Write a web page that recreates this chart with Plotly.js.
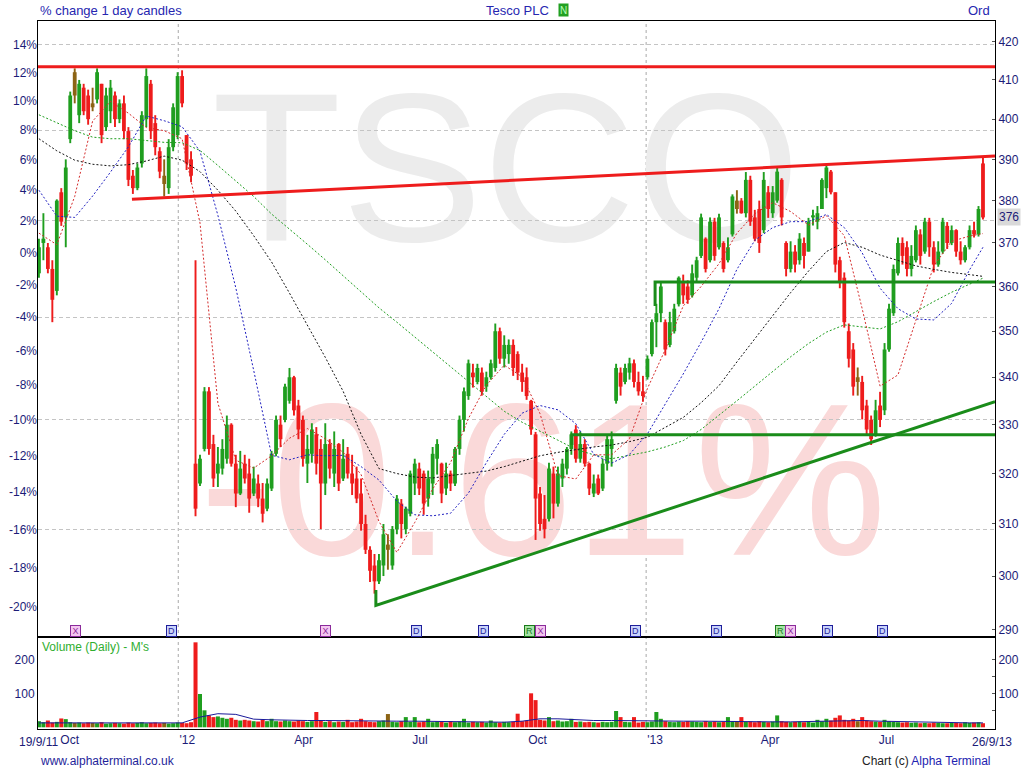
<!DOCTYPE html>
<html><head><meta charset="utf-8">
<script src="https://cdn.plot.ly/plotly-3.0.1.min.js"></script>
<style>html,body{margin:0;padding:0;background:#fff}#chart{width:1024px;height:768px}</style>
</head><body><div id="chart"></div>
<script>
// ---------- DATA (~3.5-day candles) ----------
const firstCandle = '2011-09-14';
const candleStepDays = 3.5;
const opens = [363,370,369,364,359,382,376,395,412,401,408,406,404,405,409,398,402,406,400,404,397,386,383,389,400,409,399,392,384,383,393,396,411,396,390,322,318,325,337,326,320,321,323,330,322,316,322,320,316,318,315,313,317,324,330,331,335,340,334,331,322,324,328,325,318,326,320,326,319,324,320,319,316,310,305,302,299,302,305,302,309,314,309,312,318,321,320,315,318,323,322,317,320,318,325,331,336,341,339,341,338,340,342,350,344,345,347,345,341,340,335,328,316,311,311,320,314,319,321,325,329,323,326,322,316,319,317,322,325,335,341,339,341,343,339,337,340,345,352,354,352,347,350,356,361,360,358,362,367,371,366,375,369,370,366,372,378,380,377,385,376,378,373,382,377,380,385,370,364,368,366,370,368,376,375,378,383,387,382,366,362,350,346,340,339,334,331,328,334,333,346,354,363,370,369,364,366,372,368,375,369,365,368,374,370,373,368,366,369,373,372,389];
const highs = [371,377,370,366,380.3,383,390,407,413,410,409,407.5,408,413,409,408,410,407,405,406,398,387.4,389,402,413,410,401,393,390,395,404,412,412.5,396,392,366,323.8,337.9,337.9,327.9,325.4,327,331.9,330.3,323.8,324.6,323.8,323,321.4,319.8,318.1,319,324.6,331.9,331.9,338.6,342,340.3,335.2,331.9,327.9,330.3,329.5,327,330.3,327,328.6,326.2,327,325.4,323.8,321.4,319,311.8,305.7,304.2,304.2,310,308,309.6,315.7,314.9,313.4,320.6,323,322.2,320.6,320.6,325.4,327,322.2,322.2,320.6,325.4,331.9,337.8,343.8,342.9,342.9,342.1,341.2,343.8,351.7,350.8,349.1,348.2,348.2,345.6,342.9,342.1,335.2,328.5,317.3,315.7,322.2,321.4,321.4,323,325.4,328.6,329.9,328.6,327,322.2,319.8,319.8,323,327.9,328.6,342.9,342.1,342.9,344.2,343.8,341.2,340.3,344.7,352.6,356.1,361,352.6,354.3,356.1,362.3,362.7,361.4,365,366.8,376.9,371.3,376,375.9,376.9,370.4,371.3,381.5,382.5,380.6,386.9,386,377.8,380,386.9,383.5,383.5,387.9,385.4,370.4,370.4,369.5,372.3,371.3,375.9,377.8,378.7,385.4,388.5,387.4,382,366.8,363.2,351.7,347.4,342.1,340.3,335.2,331.9,335.2,336.9,347.4,356.1,365,371.3,371.3,370.4,369.5,374.1,373.2,375.9,375.9,370.4,370.4,375.9,374.9,374.1,373.2,370.4,369.5,374.1,375,378.7,390.4];
const lows = [362,366,363,352,358,374,369,394,404,399,401,398.6,402,404,394,397,399,398,399,395,383.5,381.6,382.5,388,398,395,391,385.4,381,381.6,392,395,403,387.4,384.4,311.5,317.5,324.5,323.8,317.3,317.3,319.8,322,321.4,313.3,315.7,318,312.2,315.5,313.3,310.3,312.5,316.5,323.5,325.4,330.5,334.4,331.9,327,321.4,318.1,322.2,319.8,309,315.7,319,317.3,316.5,318.5,319,315.7,314.1,308.7,304.2,298.9,296.7,298.5,300,301.2,301.2,308,307.2,308,311.5,315.7,315.7,311.8,313.4,315.7,319.8,314.1,315.7,316.5,317.5,323.8,328.6,335.2,337.8,338.5,336.1,336.9,339.5,341.2,342.9,342.1,342.9,340.3,339.4,336.9,335.2,327.9,306.9,308.7,307.2,310.5,311.1,313.4,317.3,319.8,323.8,322.2,322.2,321.4,315.7,315.3,315.7,316.5,320.6,321.4,334.4,336.1,338.5,339.5,337.8,336.1,334.8,339.5,344.5,346.5,352,344.7,346.5,349.5,355.5,356.1,356.1,357.5,361,366.5,363.2,365.5,365.9,368.5,363.2,365.5,371.5,376.9,376.9,376,374,370.4,367.7,372.3,375.9,375.9,379.5,374.1,362.3,363.2,363.2,365,364.1,368,374.1,373.2,378,380.6,381.5,363.2,359.6,350.8,342.1,336.1,336.1,331.1,327.9,325.8,327.5,329.5,332,345.5,353.4,362.5,365,362.3,362.3,365.5,365,367.5,366.8,363.2,364.5,367.5,368.6,369.5,366.8,365,365.5,368.5,371.3,371.5,375.5];
const closes = [369,371,364,357,380,375,388,406,406,409,402,400,403,412,396,406,408,400,404,397,385,383,388,401,411,397,393,387,386,393,403,411,404,389,386,313,323,337,325,319,322,325,330,322,316,321,319,315,319,315,312,318,324,331,327,338,340,333,329,323,325,329,322,318,326,321,325,318,323,320,318,315,310,305,301,299,303,308,306,309,315,310,313,320,322,317,314,319,324,326,316,320,318,325,331,337,343,340,342,337,340,343,350,344,347,347,342,341,339,336,329,315,310,309,321,314,320,322,325,328,323,326,322,317,318,316,322,327,327,342,338,342,343,339,337,336,344,352,354,360,346,352,355,362,358,357,363,366,376,364,375,367,376,364,369,381,380,377,385,375,371,370,385,378,382,387,376,364,368,365,371,367,375,376.5,377,385,388,382,365,361,352,344,338,339,333,329,327,333,331,346,355,364,370,367,364,367,373,367,375,369,365,368,375,370,373,368,366,369,373,372,378,376];
const volumes = [18,15,20,14,16,26,24,15,13,14,12,14,13,12,15,11,12,13,12,11,14,12,13,15,12,13,14,12,13,11,12,14,13,12,15,250,98,50,35,30,32,28,25,28,22,20,22,20,18,17,22,18,25,18,17,20,18,17,20,18,16,18,45,20,16,18,15,17,16,22,15,17,25,18,16,15,18,20,39,16,15,18,30,16,30,15,17,25,15,17,16,14,18,15,17,25,14,16,15,16,14,20,15,14,16,15,16,40,18,20,100,80,22,20,30,18,20,17,18,25,16,17,15,16,15,14,16,15,16,48,30,16,15,30,14,16,15,17,45,25,18,16,15,17,16,18,17,16,15,18,16,17,15,16,30,18,17,30,16,17,15,18,16,15,17,35,18,16,15,16,17,15,16,14,22,18,25,20,28,35,22,20,25,18,30,20,18,17,16,22,18,16,15,14,15,13,14,12,13,12,14,13,12,12,14,13,12,15,13,14,15,12];
// moving averages, sampled every 4th candle (+ last candle)
const ma20  = [372.3,369.6,381,399.5,404.5,401.5,397.9,397.1,395.1,374.7,334.5,322.7,321.1,323.6,327.2,329.2,327.1,324.3,319.8,310.5,304.5,310.3,316.9,322.2,331.3,338.3,342.6,340.1,332.3,319.6,318.9,323.8,323.8,327.1,337.6,346,355.6,360,365.2,372.3,376.9,379.5,377.4,374.2,376.4,371.7,355,338.1,340.5,352.3,364.7,370.4,371.6,372.2];
const ma50  = [382.5,376.3,376,381.1,386.9,393.1,400.8,399.6,398.1,392,376.5,359.7,341.5,323.7,322.8,323.8,323.6,323.7,321.4,318.7,314.5,311.8,311.6,312.1,316.1,322.2,328,332.4,334,333.1,330.2,323.9,322.1,323.9,328.1,334.4,340.7,347.6,355,363.9,370.6,373.6,375,375,376.7,373.6,367.7,359.6,355,352.7,352.5,356.2,363.8,369];
const ma100 = [395.1,392.1,389.8,388.8,388.4,388.7,389.6,390.8,389.8,387,382.5,377.5,371.7,365.6,358.5,351.3,344.3,337,328,321,320,319.3,319.1,319.6,320.1,320.5,321.4,322.5,323.6,324.3,324.9,325.4,325.8,326.5,327.4,329.4,331.5,334.6,338.2,343.3,348.4,353.6,358.6,363.5,368,370.1,369,367.2,365.9,364.7,363.9,363.2,362.7,362.3];
const ma200 = [401.1,399.1,397.1,395.5,395.1,395.1,394.7,394.2,394.1,392.2,388.5,384.8,381,376.8,373.3,369.7,366.1,362.4,358.7,355.2,352,348.7,345.4,342.2,339.1,335.8,332.8,330.5,328.7,326.8,324.9,323.8,323,323.7,324.4,325.4,326.7,329,331.9,335,338.1,341.3,344.4,347.3,349.8,351.4,351,350.5,352.1,354.4,356.6,358.7,360.6,361.9];
const volMA = [13,13,14,13,12,12,12,12,13,30,40,38,24,22,20,20,20,19,19,18,18,18,17,17,16,16,15,18,25,25,22,20,20,19,20,19,18,18,17,17,17,16,16,17,18,19,20,18,17,15,13,13,13,13];
// trend lines drawn on the chart: [dates], [prices]
const trendRedTopX = ['2011-09-13 06:00','2013-09-30 22:00'], trendRedTopY = [413.4,413.4];
const trendRedX = ['2011-11-25 19:00','2013-09-30 22:00'], trendRedY = [380.3,390.8];
const trendGreenX = ['2012-06-03 14:00','2012-06-03 14:00','2013-09-30 22:00'], trendGreenY = [297.4,294.5,334.8];
const lvlLowX = ['2012-11-03 22:00','2012-11-03 22:00','2013-09-30 22:00'], lvlLowY = [325.8,327.9,327.9];
const lvlHighX = ['2013-01-08 00:00','2013-01-08 00:00','2013-09-30 22:00'], lvlHighY = [355.6,361,361];
// axes
const xRange = ['2011-09-13 06:43','2013-09-30 21:36'];
const priceTicks = [290,300,310,320,330,340,350,360,370,380,390,400,410,420];
const pctBase = 367.8;
const pctTicks = [14,12,10,8,6,4,2,0,-2,-4,-6,-8,-10,-12,-14,-16,-18,-20];
const pctGrid = [14,8,2,-4,-10,-16];
const monthTicks = ['2011-10-01','2012-01-01','2012-04-01','2012-07-01','2012-10-01','2013-01-01','2013-04-01','2013-07-01'];
const monthLabels = ['Oct',"'12",'Apr','Jul','Oct',"'13",'Apr','Jul'];
const yearLines = ['2012-01-01','2013-01-01'];
const volTicks = [100,200];
const lastPrice = 376;
const eventDates = ['2011-10-13','2011-12-27','2012-04-25','2012-07-05','2012-08-27','2012-10-02','2012-10-10','2012-12-24','2013-02-25','2013-04-16','2013-04-24','2013-05-23','2013-07-05'];
const eventCodes = ['X','D','X','D','D','R','X','D','D','R','X','D','D'];

// ---------- BUILD ----------
const DAY = 86400000;
const t0 = Date.parse(firstCandle + 'T00:00:00Z');
const fmt = t => new Date(t).toISOString().slice(0,19).replace('T',' ');
const dates = opens.map((_, i) => fmt(t0 + i * candleStepDays * DAY));
const maIdx = ma20.map((_, k) => Math.min(k * 4, opens.length - 1));
const maDates = maIdx.map(i => dates[i]);

const COL = {g:'#1f9e1f', r:'#ee1c1c', b:'#8c6414'};
const cls = closes.map((c, i) => {
  const prev = i ? closes[i-1] : opens[i];
  const up = c >= opens[i], dayUp = c >= prev;
  return up && dayUp ? 'g' : (!up && !dayUp ? 'r' : 'b');
});
const pick = (arr, k) => arr.filter((_, i) => cls[i] === k);
const wickLen = highs.map((h, i) => h - lows[i]);
const bodyBase = opens.map((o, i) => Math.min(o, closes[i]));
const bodyLen = opens.map((o, i) => Math.max(Math.abs(closes[i] - o), 0.5));

const FONT = 'Liberation Sans, Arial, sans-serif';
const NAVY = '#1c1c78';
const traces = [];
['g','r','b'].forEach(k => {
  traces.push({type:'bar', xaxis:'x', yaxis:'y', x:pick(dates,k), y:pick(wickLen,k), base:pick(lows,k), width:1.5*DAY,
    marker:{color:COL[k], line:{width:0}}, showlegend:false, hoverinfo:'skip'});
  traces.push({type:'bar', xaxis:'x', yaxis:'y', x:pick(dates,k), y:pick(bodyLen,k), base:pick(bodyBase,k), width:candleStepDays*0.85*DAY,
    marker:{color:COL[k], line:{width:0}}, showlegend:false, hoverinfo:'skip'});
});
const maDefs = [[ma200,'#1f9e1f'],[ma100,'#111111'],[ma50,'#2020c0'],[ma20,'#d42a2a']];
maDefs.forEach(([arr, c]) => traces.push({type:'scatter', mode:'lines', xaxis:'x', yaxis:'y', x:maDates, y:arr,
  line:{color:c, width:1, dash:'2px,2px'}, showlegend:false, hoverinfo:'skip'}));
const tl = (x, y, c) => ({type:'scatter', mode:'lines', xaxis:'x', yaxis:'y3', x, y, line:{color:c, width:3}, showlegend:false, hoverinfo:'skip'});
traces.push(tl(trendRedTopX, trendRedTopY, '#ee1c1c'));
traces.push(tl(trendRedX, trendRedY, '#ee1c1c'));
traces.push(tl(trendGreenX, trendGreenY, '#1a8c1a'));
traces.push(tl(lvlLowX, lvlLowY, '#1a8c1a'));
traces.push(tl(lvlHighX, lvlHighY, '#1a8c1a'));
['g','r','b'].forEach(k => traces.push({type:'bar', xaxis:'x2', yaxis:'y2', x:pick(dates,k), y:pick(volumes,k),
  width: candleStepDays * 0.9 * DAY, marker:{color:COL[k], line:{width:0}}, showlegend:false, hoverinfo:'skip'}));
traces.push({type:'scatter', mode:'lines', xaxis:'x2', yaxis:'y4', x:maDates, y:volMA, line:{color:'#1a1a9a', width:1}, showlegend:false, hoverinfo:'skip'});

const logRange = [Math.log10(288.7), Math.log10(425.5)];
const PD = 0.1299; // price/volume split
const plotTop = 21, plotBot = 729, plotH = plotBot - plotTop;
const pyPaper = py => (plotBot - py) / plotH;
const pxPaper = px => (px - 37.7) / 957.3;

const shapes = [];
yearLines.forEach(d => shapes.push({type:'line', xref:'x', yref:'paper', x0:d, x1:d, y0:0, y1:1, layer:'below', line:{color:'#a8a8a8', width:1, dash:'3px,3px'}}));
shapes.push({type:'rect', xref:'paper', yref:'paper', x0:pxPaper(293), x1:pxPaper(719), y0:pyPaper(205), y1:pyPaper(89), layer:'below', line:{width:0}, fillcolor:'rgba(0,0,0,0)',
  label:{text:'TSCO', textposition:'middle center', font:{family:FONT, size:212, color:'#ececec'}}});
shapes.push({type:'rect', xref:'paper', yref:'paper', x0:pxPaper(330), x1:pxPaper(756), y0:pyPaper(519), y1:pyPaper(399), layer:'below', line:{width:0}, fillcolor:'rgba(0,0,0,0)',
  label:{text:'-0.61%', textposition:'middle center', font:{family:FONT, size:217, color:'#fad9d9'}}});

const EV = {X:{bg:'#f4c6f0', fg:'#8a2a9a'}, D:{bg:'#c9d2fb', fg:'#1e1e9a'}, R:{bg:'#a6e4a6', fg:'#1a7a1a'}};
const annotations = [];
eventDates.forEach((d, i) => {
  const s = EV[eventCodes[i]];
  annotations.push({xref:'x', yref:'paper', x:d, y:pyPaper(631), text:eventCodes[i], showarrow:false, xanchor:'center', yanchor:'middle',
    font:{family:FONT, size:9, color:s.fg}, bgcolor:s.bg, bordercolor:s.fg, borderwidth:1, borderpad:0, width:9, height:10});
});
const A = (o) => annotations.push(Object.assign({showarrow:false, font:{family:FONT, size:12, color:NAVY}}, o));
A({xref:'paper', yref:'paper', x:0, y:pyPaper(10.5), xanchor:'left', yanchor:'middle', text:'% change 1 day candles', font:{family:FONT, size:13, color:'#2626b0'}});
A({xref:'paper', yref:'paper', x:pxPaper(484), y:pyPaper(10.5), xanchor:'left', yanchor:'middle', text:'Tesco PLC', font:{family:FONT, size:13, color:'#2626b0'}});
A({xref:'paper', yref:'paper', x:pxPaper(563.5), y:pyPaper(9.5), xanchor:'center', yanchor:'middle', text:'N', font:{family:FONT, size:10, color:'#b8ffb8'}, bgcolor:'#22a022', borderpad:0, width:9, height:12});
A({xref:'paper', yref:'paper', x:pxPaper(992), y:pyPaper(10.5), xanchor:'right', yanchor:'middle', text:'Ord', font:{family:FONT, size:13, color:'#2626b0'}});
A({xref:'paper', yref:'paper', x:pxPaper(40), y:pyPaper(647), xanchor:'left', yanchor:'middle', text:"Volume (Daily) - M's", font:{family:FONT, size:12, color:'#2fae2f'}});
A({xref:'paper', yref:'paper', x:0, y:pyPaper(742), xanchor:'center', yanchor:'middle', text:'19/9/11'});
A({xref:'paper', yref:'paper', x:pxPaper(992.3), y:pyPaper(742), xanchor:'center', yanchor:'middle', text:'26/9/13'});
A({xref:'paper', yref:'paper', x:0, y:pyPaper(761), xanchor:'left', yanchor:'middle', text:'www.alphaterminal.co.uk', font:{family:FONT, size:12, color:'#1f1f9a'}});
A({xref:'paper', yref:'paper', x:pxPaper(993), y:pyPaper(761), xanchor:'right', yanchor:'middle', text:'Chart (c) <span style="color:#2222b0">Alpha Terminal</span>', font:{family:FONT, size:12, color:'#222222'}});
A({xref:'paper', yref:'y', x:1, xshift:2, y:Math.log10(lastPrice), xanchor:'left', yanchor:'middle', text:String(lastPrice), bgcolor:'#d9d9d9', borderpad:1});

const axBase = {showgrid:false, zeroline:false, linecolor:'#000', linewidth:1, tickfont:{family:FONT, size:12, color:NAVY}};
const layout = {
  width:1024, height:768, margin:{l:38, r:29, t:21, b:39, pad:0},
  paper_bgcolor:'#ffffff', plot_bgcolor:'#ffffff', showlegend:false, hovermode:false, barmode:'overlay',
  font:{family:FONT, size:12, color:NAVY},
  xaxis:Object.assign({}, axBase, {type:'date', domain:[0,1], anchor:'y', range:xRange, showticklabels:false, ticks:'', showline:true, mirror:true}),
  xaxis2:Object.assign({}, axBase, {type:'date', domain:[0,1], anchor:'y2', matches:'x', range:xRange, tickmode:'array', tickvals:monthTicks, ticktext:monthLabels, ticklabelshift:9, ticks:'', showline:true, mirror:true}),
  yaxis:Object.assign({}, axBase, {type:'log', domain:[PD,1], anchor:'x', side:'right', range:logRange, tickmode:'array', tickvals:priceTicks, ticktext:priceTicks.map(String),
    ticks:'inside', ticklen:3, tickcolor:'#555', showline:true, mirror:true,
    minor:{tickmode:'array', tickvals:pctGrid.map(p => pctBase*(1+p/100)), showgrid:true, gridcolor:'#c4c4c4', griddash:'4px,3px', gridwidth:1, ticks:''}}),
  yaxis3:Object.assign({}, axBase, {type:'log', overlaying:'y', anchor:'x', side:'left', range:logRange, tickmode:'array', tickvals:pctTicks.map(p => pctBase*(1+p/100)),
    ticktext:pctTicks.map(p => p + '%'), ticks:'', showline:false}),
  yaxis2:Object.assign({}, axBase, {domain:[0,PD], anchor:'x2', range:[-5,265.6], tickmode:'array', tickvals:volTicks, ticks:'', showline:true, mirror:true}),
  yaxis4:Object.assign({}, axBase, {overlaying:'y2', anchor:'x2', side:'right', range:[-5,265.6], tickmode:'array', tickvals:[50,100,150,200], ticktext:['','100','','200'], ticks:'inside', ticklen:3, tickcolor:'#555'}),
  shapes, annotations
};
Plotly.newPlot('chart', traces, layout, {staticPlot:true, displayModeBar:false});
</script></body></html>
